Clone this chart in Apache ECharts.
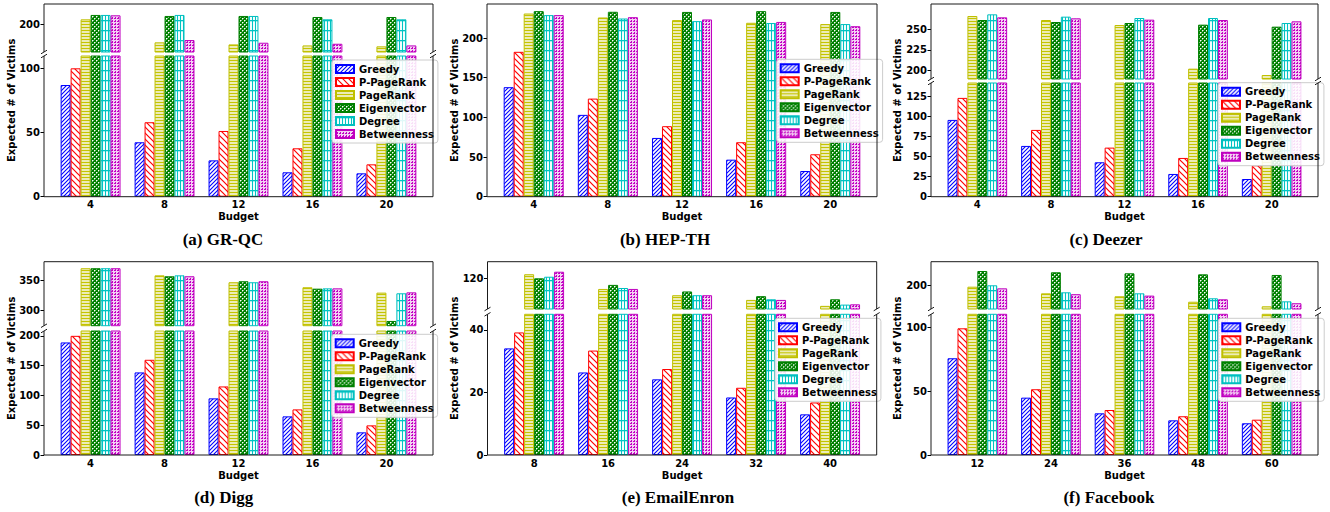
<!DOCTYPE html>
<html><head><meta charset="utf-8">
<script src="https://cdn.jsdelivr.net/npm/echarts@6/dist/echarts.min.js"></script>
<style>html,body{margin:0;padding:0;background:#fff}#c{width:1330px;height:512px}</style>
</head><body><div id="c"></div>
<script>
// ---------------- DATA ----------------
const methods = ['Greedy', 'P-PageRank', 'PageRank', 'Eigenvector', 'Degree', 'Betweenness'];
const budgets4 = ['4', '8', '12', '16', '20'];
const budgets8 = ['8', '16', '24', '32', '40'];
const budgets12 = ['12', '24', '36', '48', '60'];

// rows = methods (in order above), columns = budgets
const grqc = [
  [87.0, 42.4, 28.3, 19.0, 18.2],
  [100.0, 58.0, 51.2, 37.7, 25.2],
  [203.9, 186.0, 184.4, 183.6, 182.9],
  [207.3, 206.5, 206.5, 205.7, 205.7],
  [207.3, 207.3, 206.5, 203.9, 203.9],
  [207.0, 187.8, 185.7, 184.9, 183.6]
];
const hepth = [
  [138.1, 103.2, 74.1, 46.7, 32.4],
  [182.7, 123.7, 88.9, 68.7, 53.5],
  [231.0, 226.0, 222.7, 219.3, 217.7],
  [234.0, 233.2, 233.0, 234.0, 233.0],
  [229.0, 224.7, 221.4, 219.0, 217.7],
  [229.0, 226.4, 223.5, 220.4, 215.0]
];
const deezer = [
  [95.9, 63.4, 43.0, 28.4, 22.1],
  [123.4, 83.4, 61.3, 48.4, 39.2],
  [265.6, 260.8, 254.8, 202.4, 194.8],
  [260.8, 258.4, 257.2, 255.2, 252.8],
  [267.6, 264.8, 263.2, 263.2, 257.2],
  [264.0, 262.8, 261.2, 260.8, 259.2]
];
const digg = [
  [188.8, 138.5, 95.0, 64.8, 38.0],
  [199.9, 159.7, 115.0, 76.5, 49.7],
  [371.0, 359.0, 347.3, 338.9, 329.8],
  [371.0, 357.4, 349.0, 336.5, 282.0],
  [371.0, 359.0, 347.3, 337.0, 328.7],
  [371.0, 357.4, 349.0, 337.0, 330.3]
];
const enron = [
  [34.1, 26.4, 24.2, 18.4, 13.0],
  [39.2, 33.4, 27.5, 21.5, 16.8],
  [121.3, 116.6, 114.6, 113.1, 111.2],
  [120.0, 117.9, 115.8, 114.3, 113.3],
  [120.5, 116.9, 114.6, 113.3, 111.6],
  [122.1, 116.6, 114.6, 113.1, 111.7]
];
const facebook = [
  [75.9, 45.0, 32.7, 27.2, 24.9],
  [99.4, 51.6, 35.3, 30.4, 27.7],
  [199.2, 194.0, 191.7, 187.4, 183.8],
  [211.5, 210.5, 209.7, 208.9, 208.4],
  [200.3, 194.8, 194.0, 190.1, 187.7],
  [197.9, 193.3, 192.2, 189.3, 186.2]
];

// y tick labels and axis ranges (upper / lower part of broken axes)
const grqcTicksUpper = [200], grqcTicksLower = [0, 50, 100];
const grqcRangeUpper = [178.5, 215.8], grqcRangeLower = [0, 109.6];
const hepthTicks = [0, 50, 100, 150, 200];
const hepthRange = [0, 243];
const deezerTicksUpper = [200, 225, 250], deezerTicksLower = [0, 25, 50, 75, 100, 125];
const deezerRangeUpper = [190, 280], deezerRangeLower = [0, 142];
const diggTicksUpper = [300, 350], diggTicksLower = [0, 50, 100, 150, 200];
const diggRangeUpper = [274, 382], diggRangeLower = [0, 208];
const enronTicksUpper = [120], enronTicksLower = [0, 20, 40];
const enronRangeUpper = [110.2, 125.3], enronRangeLower = [0, 45];
const fbTicksUpper = [200], fbTicksLower = [0, 50, 100];
const fbRangeUpper = [181.7, 218.8], fbRangeLower = [0, 110.4];

// ---------------- STYLE ----------------
const colors = ['#0000ff', '#ff0000', '#bfbf00', '#008000', '#00bfbf', '#bf00bf'];

function tile(w, h, draw) {
  const c = document.createElement('canvas');
  c.width = w; c.height = h;
  const g = c.getContext('2d');
  draw(g, w, h);
  return c;
}
const patterns = [
  tile(4, 4, (g, w, h) => { g.fillStyle = '#fff'; g.fillRect(0, 0, w, h);
    g.strokeStyle = '#0000ff'; g.lineWidth = 1.1; g.beginPath();
    g.moveTo(-1, h + 1); g.lineTo(w + 1, -1); g.moveTo(-1, 1); g.lineTo(1, -1); g.moveTo(w - 1, h + 1); g.lineTo(w + 1, h - 1); g.stroke(); }),
  tile(6, 6, (g, w, h) => { g.fillStyle = '#fff'; g.fillRect(0, 0, w, h);
    g.strokeStyle = '#ff0000'; g.lineWidth = 1.2; g.beginPath();
    g.moveTo(-1, -1); g.lineTo(w + 1, h + 1); g.moveTo(w - 1, -1); g.lineTo(w + 1, 1); g.moveTo(-1, h - 1); g.lineTo(1, h + 1); g.stroke(); }),
  tile(3, 3, (g, w, h) => { g.fillStyle = '#ececb6'; g.fillRect(0, 0, w, h);
    g.fillStyle = '#c4c400'; g.fillRect(0, 0, w, 1); }),
  tile(4, 4, (g, w, h) => { g.fillStyle = '#008000'; g.fillRect(0, 0, w, h);
    g.fillStyle = '#ffffff'; g.fillRect(0, 0, 1, 1); g.fillRect(2, 2, 1, 1);
    g.fillStyle = '#80c080'; g.fillRect(1, 0, 1, 1); g.fillRect(0, 1, 1, 1); g.fillRect(3, 2, 1, 1); g.fillRect(2, 3, 1, 1); }),
  tile(3, 10, (g, w, h) => { g.fillStyle = '#f2fdfd'; g.fillRect(0, 0, w, h);
    g.fillStyle = '#00c4c4'; g.fillRect(0, 0, 1, h); g.fillRect(0, 0, w, 1.3); }),
  tile(3, 3, (g, w, h) => { g.fillStyle = '#f3d0f3'; g.fillRect(0, 0, w, h);
    g.fillStyle = '#c400c4'; g.fillRect(0, 0, 2, 1); g.fillRect(1, 2, 1, 1); })
];

const boldFont = 'DejaVu Sans';

// ---------------- LAYOUT ----------------
const panels = [
  { cats: budgets4, vals: grqc, ticksU: grqcTicksUpper, rangeU: grqcRangeUpper, ticksL: grqcTicksLower, rangeL: grqcRangeLower,
    caption: '(a) GR-QC', L: 44, R: 433, T: 4, B: 196.7, ub: 52, lt: 56, lgX: 332, lgY: 60, capX: 223, capY: 239, ylX: 11.7 },
  { cats: budgets4, vals: hepth, ticksL: hepthTicks, rangeL: hepthRange,
    caption: '(b) HEP-TH', L: 487, R: 877, T: 4, B: 196.7, lgX: 776.7, lgY: 59.3, capX: 665, capY: 239, ylX: 454 },
  { cats: budgets4, vals: deezer, ticksU: deezerTicksUpper, rangeU: deezerRangeUpper, ticksL: deezerTicksLower, rangeL: deezerRangeLower,
    caption: '(c) Deezer', L: 931, R: 1318, T: 4, B: 196.7, ub: 79, lt: 83, lgX: 1218, lgY: 82.7, capX: 1106, capY: 239, ylX: 897.3 },
  { cats: budgets4, vals: digg, ticksU: diggTicksUpper, rangeU: diggRangeUpper, ticksL: diggTicksLower, rangeL: diggRangeLower,
    caption: '(d) Digg', L: 44, R: 433, T: 261.7, B: 455, ub: 325.7, lt: 331, lgX: 331.7, lgY: 334.3, capX: 223.7, capY: 497.5, ylX: 11.7 },
  { cats: budgets8, vals: enron, ticksU: enronTicksUpper, rangeU: enronRangeUpper, ticksL: enronTicksLower, rangeL: enronRangeLower,
    caption: '(e) EmailEnron', L: 487.5, R: 876.7, T: 261.7, B: 455, ub: 309, lt: 314.3, lgX: 775, lgY: 318.3, capX: 678, capY: 497.5, ylX: 454 },
  { cats: budgets12, vals: facebook, ticksU: fbTicksUpper, rangeU: fbRangeUpper, ticksL: fbTicksLower, rangeL: fbRangeLower,
    caption: '(f) Facebook', L: 931, R: 1318, T: 261.7, B: 455, ub: 309, lt: 314.3, lgX: 1218.3, lgY: 318.3, capX: 1109, capY: 497.5, ylX: 897.3 }
];

const grids = [], xAxes = [], yAxes = [], series = [], legends = [], gfx = [];
const lineStyle = { stroke: '#1a1a1a', lineWidth: 1 };
function line(x1, y1, x2, y2) {
  gfx.push({ type: 'line', silent: true, z: 100, shape: { x1, y1, x2, y2 }, style: lineStyle });
}

panels.forEach(p => {
  const W = p.R - p.L;
  const spacing = W / 5.26;
  const inset = (W - 5 * spacing) / 2;
  const parts = [];
  if (p.rangeU) {
    parts.push({ top: p.T, h: p.ub - p.T, range: p.rangeU, ticks: p.ticksU, bottom: false });
    parts.push({ top: p.lt, h: p.B - p.lt, range: p.rangeL, ticks: p.ticksL, bottom: true });
  } else {
    parts.push({ top: p.T, h: p.B - p.T, range: p.rangeL, ticks: p.ticksL, bottom: true });
  }
  parts.forEach(part => {
    const gi = grids.length;
    grids.push({ left: p.L + inset, top: part.top, width: 5 * spacing, height: part.h, containLabel: false });
    xAxes.push({
      type: 'category', gridIndex: gi, data: p.cats, show: part.bottom,
      axisLine: { show: false }, axisTick: { show: false },
      axisLabel: { margin: 3, color: '#000', fontFamily: boldFont, fontWeight: 'bold', fontSize: 10 },
      name: part.bottom ? 'Budget' : '', nameLocation: 'middle', nameGap: 15,
      nameTextStyle: { color: '#000', fontFamily: boldFont, fontWeight: 'bold', fontSize: 10 }
    });
    yAxes.push({
      type: 'value', gridIndex: gi, min: part.range[0], max: part.range[1], offset: inset,
      axisLine: { show: false }, splitLine: { show: false },
      axisTick: { show: true, length: 3.5, customValues: part.ticks, lineStyle: { color: '#000', width: 1 } },
      axisLabel: { customValues: part.ticks, margin: 4, color: '#000', fontFamily: boldFont, fontWeight: 'bold', fontSize: 10 }
    });
    methods.forEach((m, mi) => {
      series.push({
        type: 'bar', name: m, xAxisIndex: gi, yAxisIndex: gi,
        data: p.vals[mi].map(v => (v >= part.range[0] ? v : '-')),
        barWidth: '13.5%', barGap: '0%', clip: true,
        itemStyle: { color: { image: patterns[mi], repeat: 'repeat' }, borderColor: colors[mi], borderWidth: 1 },
        emphasis: { disabled: true }, silent: true
      });
    });
  });

  legends.push({
    orient: 'vertical', left: p.lgX, top: p.lgY, data: methods, icon: 'rect',
    itemWidth: 18, itemHeight: 8, itemGap: 1, selectedMode: false,
    textStyle: { color: '#000', fontFamily: boldFont, fontWeight: 'bold', fontSize: 10, lineHeight: 12 },
    backgroundColor: 'rgba(255,255,255,0.88)', borderColor: '#cccccc', borderWidth: 1, borderRadius: 3,
    padding: [3, 4, 3, 3], z: 20
  });

  // frame (spines) and break marks
  if (p.rangeU) {
    line(p.L, p.T, p.R, p.T);
    line(p.L, p.T, p.L, p.ub); line(p.R, p.T, p.R, p.ub);
    line(p.L, p.lt, p.L, p.B); line(p.R, p.lt, p.R, p.B);
    line(p.L, p.B, p.R, p.B);
    [p.L, p.R].forEach(x => {
      [p.ub, p.lt].forEach(y => line(x - 3, y + 1.8, x + 3, y - 1.8));
    });
  } else {
    line(p.L, p.T, p.R, p.T); line(p.L, p.B, p.R, p.B);
    line(p.L, p.T, p.L, p.B); line(p.R, p.T, p.R, p.B);
  }
  gfx.push({
    type: 'text', x: p.ylX, y: (p.T + p.B) / 2, rotation: Math.PI / 2, silent: true,
    style: { text: 'Expected # of Victims', font: 'bold 10px "DejaVu Sans"', fill: '#000', textAlign: 'center', textVerticalAlign: 'middle', verticalAlign: 'middle' }
  });
  gfx.push({
    type: 'text', x: p.capX, y: p.capY, silent: true,
    style: { text: p.caption, font: 'bold 17px "Liberation Serif"', fill: '#000', textAlign: 'center', textVerticalAlign: 'middle', verticalAlign: 'middle' }
  });
});

const chart = echarts.init(document.getElementById('c'), null, { renderer: 'svg' });
chart.setOption({
  animation: false,
  backgroundColor: '#fff',
  grid: grids, xAxis: xAxes, yAxis: yAxes, series: series, legend: legends,
  graphic: { elements: gfx }
});
</script></body></html>
